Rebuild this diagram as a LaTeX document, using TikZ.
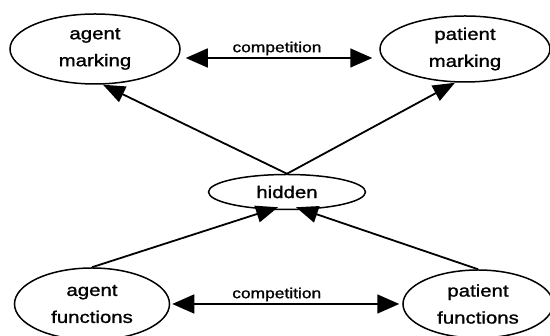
\documentclass[tikz,border=0pt]{standalone}
\usepackage{fontspec}
\setmainfont[FakeStretch=1.2, FakeBold=1.2]{Liberation Sans}
\usetikzlibrary{shapes.geometric, arrows.meta}
\tikzset{
  x=1pt, y=1pt,
  unit/.style={ellipse, draw, line width=1.5pt, align=center, inner sep=0pt,
    font=\fontsize{17}{27}\selectfont},
  link/.style={-{Triangle[length=22pt, width=17pt]}, line width=1.8pt},
  compete/.style={{Triangle[length=22pt, width=19pt]}-{Triangle[length=22pt, width=19pt]}, line width=1.6pt},
  tag/.style={font=\fontsize{14.5}{16}\selectfont, inner sep=2pt},
}

\begin{document}
\begin{tikzpicture}
		\useasboundingbox (0,0) rectangle (550,336);

		% units
		\node[unit, minimum width=170pt, minimum height=70pt] (amark) at (95,287) {agent\\marking};
		\node[unit, minimum width=170pt, minimum height=66pt] (pmark) at (465,287) {patient\\marking};
		\node[unit, minimum width=157pt, minimum height=35pt] (hidden) at (287,144) {\raisebox{-4pt}{hidden}};
		\node[unit, minimum width=155pt, minimum height=72pt] (afunc) at (92,32) {agent\\functions};
		\node[unit, minimum width=150pt, minimum height=68pt] (pfunc) at (478,32) {patient\\functions};

		% connections
		\draw[link] (hidden.north) -- ([xshift=8pt]amark.south);
		\draw[link] (hidden.north) -- ([xshift=-10pt]pmark.south);
		\draw[link] (afunc.north) -- ([xshift=-9pt, yshift=3pt]hidden.south);
		\draw[link] (pfunc.north) -- ([xshift=9pt, yshift=3pt]hidden.south);

		% competition
		\draw[compete] ([xshift=5pt, yshift=-9pt]amark.east) -- node[tag, above, xshift=-2pt]{competition} ([xshift=-7pt, yshift=-9pt]pmark.west);
		\draw[compete] ([xshift=2pt]afunc.east) -- node[tag, above, xshift=-9pt]{competition} ([xshift=-3pt]pfunc.west);

	\end{tikzpicture}
\end{document}
